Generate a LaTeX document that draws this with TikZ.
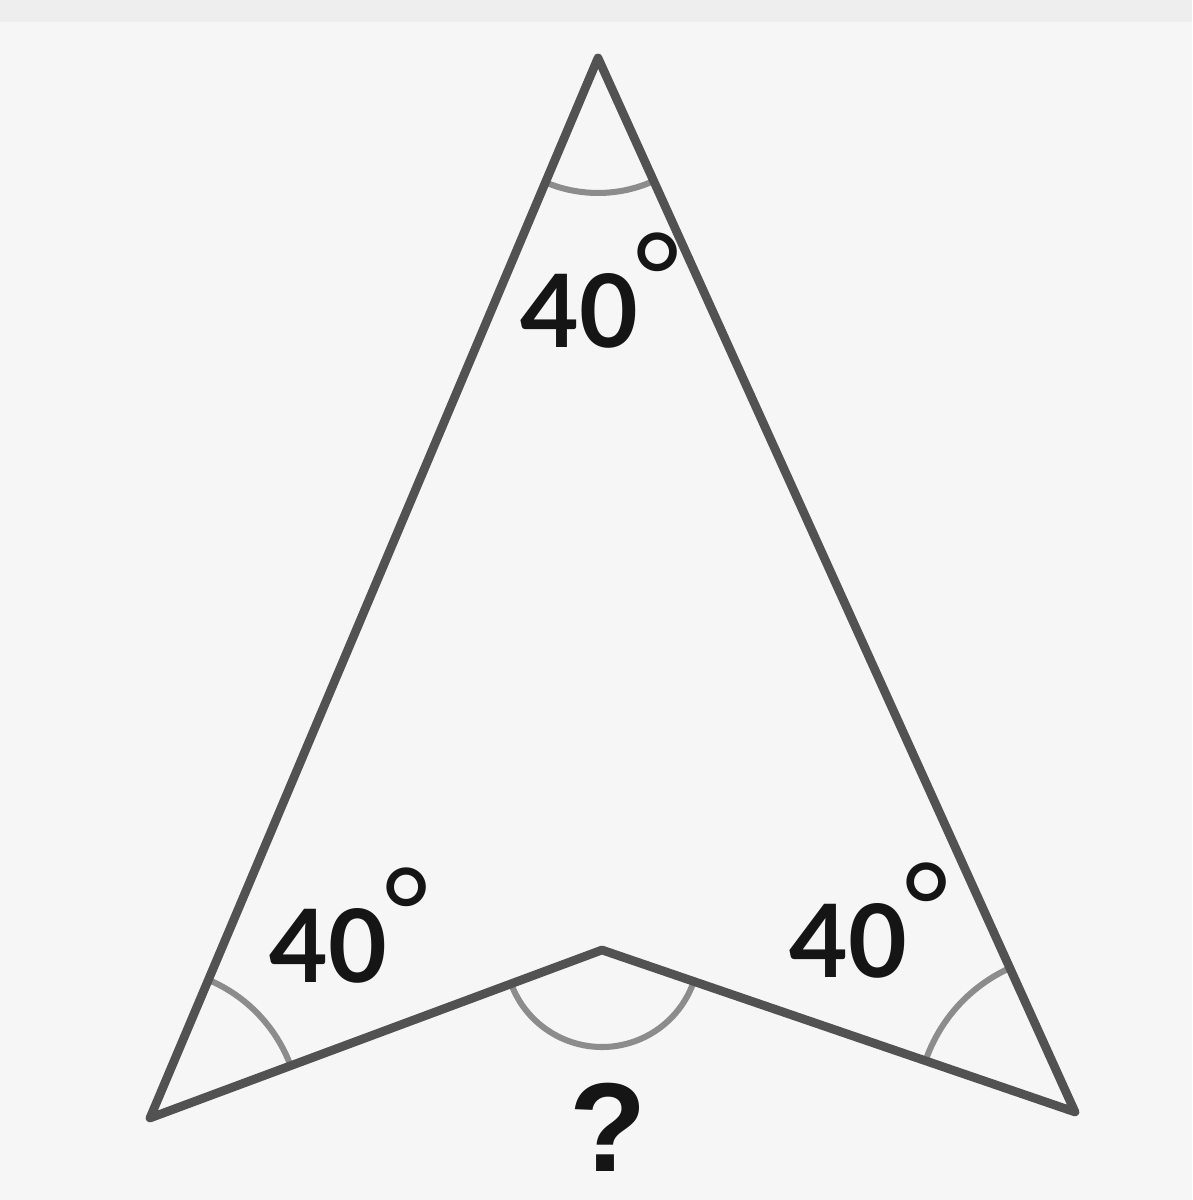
\documentclass[tikz,border=0pt]{standalone}
\usepackage{fontspec}
\setmainfont{Lato}
\newfontfamily\qfont{Liberation Sans}
\definecolor{edgegray}{HTML}{525252}
\definecolor{arcgray}{HTML}{8C8C8C}
\definecolor{bggray}{HTML}{F6F6F6}
\definecolor{topgray}{HTML}{EEEEEE}
\definecolor{txtblack}{HTML}{151515}
\tikzset{
  edge/.style={draw=edgegray, line width=6.2pt, line join=round, line cap=round},
  anglearc/.style={draw=arcgray, line width=4.3pt},
  anglelabel/.style={text=txtblack, font=\fontsize{72}{80}\selectfont\bfseries, inner sep=0pt, anchor=base west},
  qlabel/.style={text=txtblack, font=\qfont\bfseries\fontsize{90}{96}\selectfont, inner sep=0pt}
}
\newcommand{\deglabel}{40\kern-0.05em\raisebox{0.27em}{\fontsize{86}{90}\selectfont\mdseries °}}
\begin{document}
\begin{tikzpicture}[x=0.025cm, y=0.025cm]
\useasboundingbox (0,0) rectangle (1192,1200);
\fill[bggray] (0,0) rectangle (1192,1200);
\fill[topgray] (0,1178) rectangle (1192,1200);
% vertices
\coordinate (T) at (598,1142);
\coordinate (L) at (150,82);
\coordinate (R) at (1075,88);
\coordinate (M) at (602,250);
% angle arcs
\draw[anglearc] ([shift={(247.1:135)}]T) arc[start angle=247.1, end angle=294.35, radius=135];
\draw[anglearc] ([shift={(20.4:150)}]L) arc[start angle=20.4, end angle=67.1, radius=150];
\draw[anglearc] ([shift={(114.35:158)}]R) arc[start angle=114.35, end angle=161.1, radius=158];
\draw[anglearc] ([shift={(200.4:97)}]M) arc[start angle=200.4, end angle=341.1, radius=97];
% outline
\draw[edge] (T) -- (R) -- (M) -- (L) -- cycle;
% labels
\node[anglelabel] (topl) at (520,852) {\deglabel};
\node[anglelabel] (leftl) at (269,217) {\deglabel};
\node[anglelabel] (rightl) at (789,222) {\deglabel};
\node[qlabel] (q) at (608,73) {?};
\end{tikzpicture}
\end{document}
